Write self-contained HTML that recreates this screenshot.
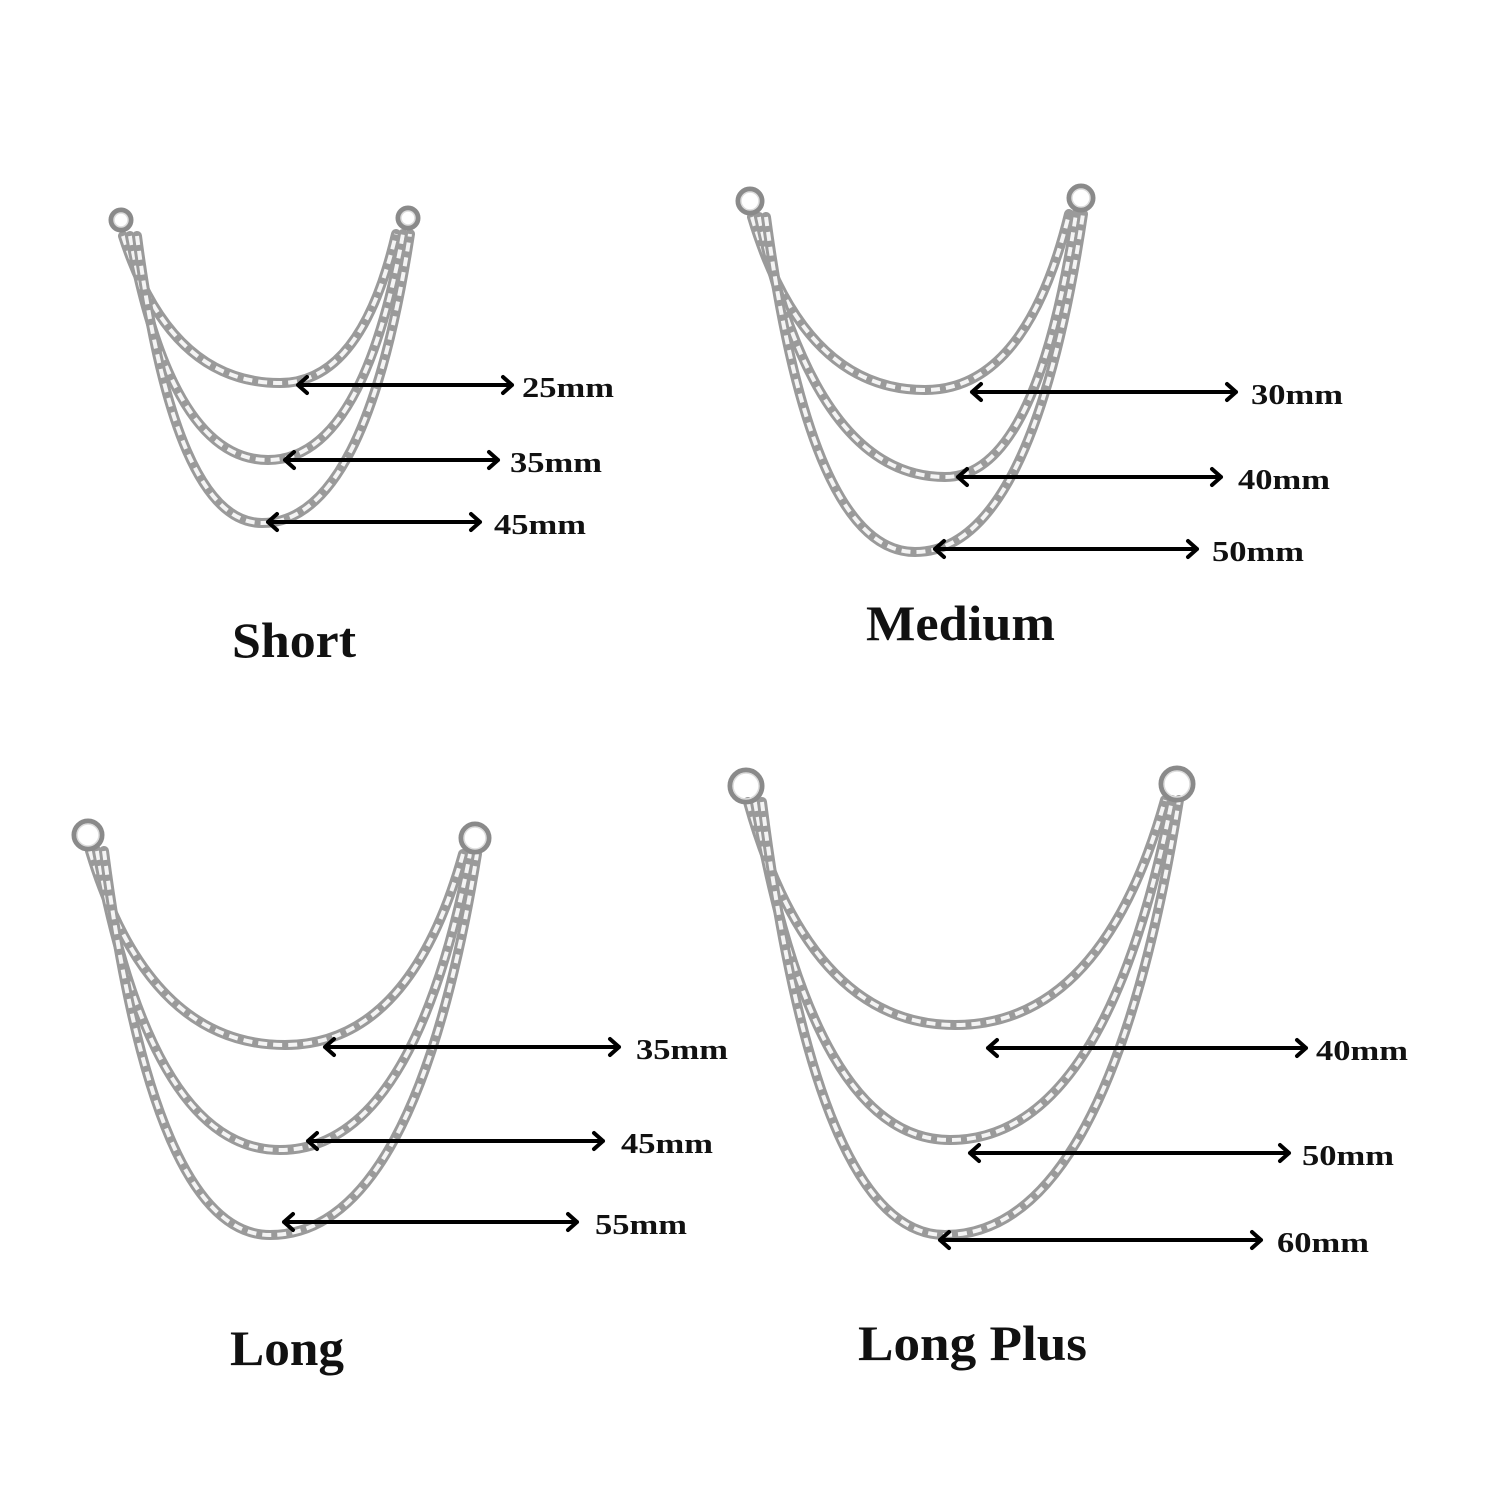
<!DOCTYPE html>
<html><head><meta charset="utf-8"><style>
html,body{margin:0;padding:0;background:#fff}
svg{display:block}
text{font-family:"Liberation Serif",serif;font-weight:bold;fill:#111}
.lbl{font-size:28px}
.ttl{font-size:50px}
.chain{fill:none;stroke:#9a9a9a;stroke-width:10;stroke-linecap:round}
.chainw{fill:none;stroke:#f4f4f4;stroke-width:4;stroke-dasharray:9 6}
.ring{fill:none;stroke:#8a8a8a;stroke-width:5}
.ringi{fill:none;stroke:#dcdcdc;stroke-width:1.5}
.arr{stroke:#000;stroke-width:4;fill:none;stroke-linecap:round;stroke-linejoin:round}
</style></head><body>
<svg width="1500" height="1500" viewBox="0 0 1500 1500" xmlns="http://www.w3.org/2000/svg">
<g id="all"></g>
<script>
const S="http://www.w3.org/2000/svg",g=document.getElementById('all');
function el(n,a){const e=document.createElementNS(S,n);for(const k in a)e.setAttribute(k,a[k]);g.appendChild(e);return e}
function ring(x,y,r){el('circle',{cx:x,cy:y,r:r,class:'ring'});el('circle',{cx:x,cy:y,r:r-3,class:'ringi'})}
function chain(x1,y1,xb,yb,x2,y2){
 const d=`M${x1} ${y1} Q${x1+(xb-x1)*0.3} ${yb} ${xb} ${yb} Q${x2-(x2-xb)*0.3} ${yb} ${x2} ${y2}`;
 el('path',{d:d,class:'chain'});el('path',{d:d,class:'chainw'});}
function arrow(x1,x2,y,t,tx){
 el('path',{d:`M${x1} ${y}H${x2}M${x1+9} ${y-8}L${x1} ${y}L${x1+9} ${y+8}M${x2-9} ${y-8}L${x2} ${y}L${x2-9} ${y+8}`,class:'arr'});
 const e=el('text',{x:tx,y:y+12,class:'lbl',textLength:92,lengthAdjust:'spacingAndGlyphs'});e.textContent=t;}
function title(x,y,t,w){const e=el('text',{x:x,y:y,class:'ttl',textLength:w,lengthAdjust:'spacingAndGlyphs'});e.textContent=t;}
function set(L,R,rr,bots,arrs,tt){
 const [lx,ly]=L,[rx,ry]=R;
 bots.forEach((b,i)=>chain(lx+2+i*7,ly+16,b[0],b[1],rx+2-(2-i)*7,ry+16));
 ring(lx,ly,rr);ring(rx,ry,rr);
 arrs.forEach(a=>arrow(a[0],a[1],a[2],a[3],a[4]));
 title(tt[0],tt[1],tt[2],tt[3]);}
set([121,220],[408,218],10,[[280,383],[268,460],[262,523]],
 [[298,512,385,'25mm',522],[285,498,460,'35mm',510],[268,480,522,'45mm',494]],[232,657,'Short',124]);
set([750,201],[1081,198],12,[[925,390],[945,477],[915,552]],
 [[972,1236,392,'30mm',1251],[958,1221,477,'40mm',1238],[935,1197,549,'50mm',1212]],[866,640,'Medium',189]);
set([88,835],[475,838],14,[[285,1045],[280,1150],[270,1235]],
 [[325,619,1047,'35mm',636],[308,603,1141,'45mm',621],[284,577,1222,'55mm',595]],[230,1365,'Long',114]);
set([746,786],[1177,784],16,[[955,1025],[950,1140],[945,1235]],
 [[988,1306,1048,'40mm',1316],[970,1289,1153,'50mm',1302],[940,1261,1240,'60mm',1277]],[858,1360,'Long Plus',229]);
</script>
</svg>
</body></html>
